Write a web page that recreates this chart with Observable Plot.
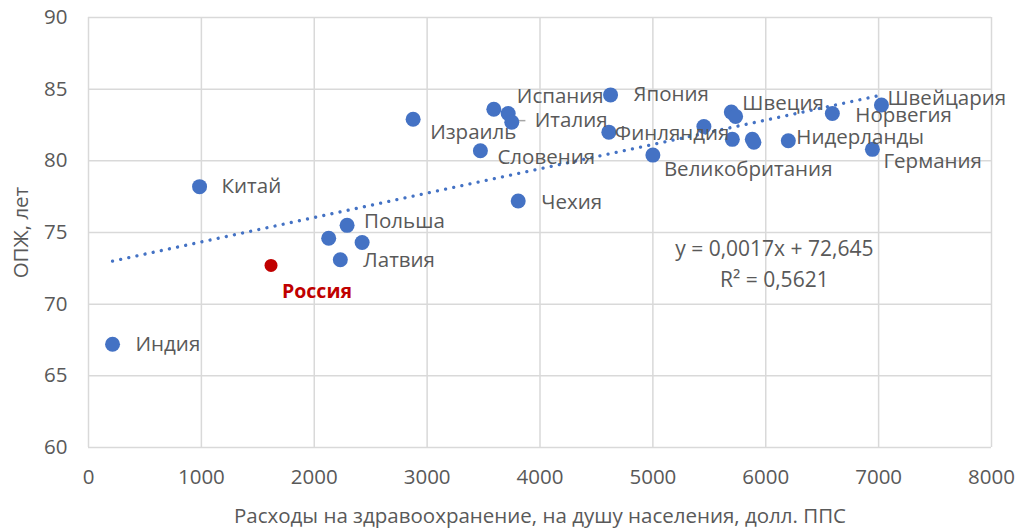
<!DOCTYPE html>
<html><head><meta charset="utf-8">
<script src="https://cdn.jsdelivr.net/npm/d3@7"></script>
<script src="https://cdn.jsdelivr.net/npm/@observablehq/plot@0.6"></script>
<style>body{margin:0;background:#fff}</style>
</head><body><div id="chart"></div>
<script>
// ---- data ----
const countries = ["Индия","Китай","Россия","","Польша","","Латвия","Израиль","Словения","Испания","","Италия","Чехия","Япония","Финляндия","Великобритания","","Швеция","","","","","Нидерланды","Норвегия","Германия","Швейцария"];
const spending  = [213,984,1617,2128,2291,2424,2231,2876,3472,3591,3718,3750,3807,4625,4610,5000,5452,5695,5733,5704,5881,5895,6200,6590,6945,7025];
const lifeExp   = [67.2,78.2,72.7,74.6,75.5,74.3,73.1,82.9,80.7,83.6,83.3,82.7,77.2,84.6,82.0,80.4,82.4,83.4,83.1,81.5,81.5,81.3,81.4,83.3,80.8,83.9];
const highlight = "Россия";
const trendSlope = 0.0017, trendIntercept = 72.645;
const eqLines = ["y = 0,0017x + 72,645", "R² = 0,5621"];
const eqAt = {x: 6076, y: 72.98};
const xTicks = [0,1000,2000,3000,4000,5000,6000,7000,8000];
const yTicks = [60,65,70,75,80,85,90];
const xTitle = "Расходы на здравоохранение, на душу населения, долл. ППС";
const yTitle = "ОПЖ, лет";
const yTitleStart = 71.8; // where the rotated y-title begins (bottom end)

// label placement (pixels) – style, not data
const labelOffset = {
  "Индия":[23,0],"Китай":[22,0],"Россия":[11,26],"Польша":[17,-4],"Латвия":[23,1],
  "Израиль":[17,13],"Словения":[17,7],"Испания":[23,-13],"Италия":[23,-2],"Чехия":[23,1],
  "Япония":[23,0],"Финляндия":[6,1],"Великобритания":[11,14],"Швеция":[11,-9],
  "Нидерланды":[8,-3],"Норвегия":[23,2],"Германия":[11,12],"Швейцария":[6,-6]
};

const pts = countries.map((c,i)=>({name:c, x:spending[i], y:lifeExp[i]}));
const [xmin,xmax] = d3.extent(spending);
const trend = [xmin,xmax].map(x=>({x, y: trendIntercept + trendSlope*x}));

const blue = "#4472C4", red = "#C00000", grey = "#595959", grid = "#d9d9d9";
const FS = 20.5;

const labelMarks = pts.filter(d=>d.name).map(d=>{
  const [dx,dy] = labelOffset[d.name] || [20,0];
  const isHi = d.name===highlight;
  return Plot.text([d],{x:"x",y:"y",text:"name",dx,dy,textAnchor:"start",lineAnchor:"middle",
    fill:isHi?red:grey,fontWeight:isHi?"bold":"normal",fontSize:isHi?19.5:FS});
});

const italy = pts.filter(d=>d.name==="Италия");

const chart = Plot.plot({
  width:1015,height:528,
  marginTop:17,marginRight:24,marginBottom:81,marginLeft:88,
  style:{fontFamily:"'Open Sans', sans-serif",fontSize:FS+"px",color:grey,background:"#fff",overflow:"visible"},
  x:{domain:[0,8000],label:null},
  y:{domain:[60,90],label:null},
  marks:[
    Plot.gridX(xTicks,{stroke:grid,strokeOpacity:1,strokeWidth:1.5}),
    Plot.gridY(yTicks,{stroke:grid,strokeOpacity:1,strokeWidth:1.5}),
    Plot.axisX(xTicks,{tickSize:0,tickPadding:22,tickFormat:d=>String(d),fontSize:FS,fill:grey,label:null}),
    Plot.axisY(yTicks,{tickSize:0,tickPadding:21,tickFormat:d=>String(d),fontSize:FS,fill:grey,label:null}),
    Plot.line(trend,{x:"x",y:"y",stroke:blue,strokeWidth:3.3,strokeDasharray:"0.01,8.3",strokeLinecap:"round"}),
    Plot.ruleY(italy,{y:"y",x1:"x",x2:d=>d.x+125,dy:-1.5,stroke:"#a6a6a6",strokeWidth:1.5}),
    Plot.dot(pts.filter(d=>d.name!==highlight),{x:"x",y:"y",r:7.5,fill:blue}),
    Plot.dot(pts.filter(d=>d.name===highlight),{x:"x",y:"y",r:6.5,fill:red}),
    ...labelMarks,
    Plot.text([eqLines.join("\n")],{x:()=>eqAt.x,y:()=>eqAt.y,text:d=>d,lineHeight:1.5,fontSize:21,fill:grey,textAnchor:"middle",lineAnchor:"middle"}),
    Plot.text([xTitle],{frameAnchor:"bottom",dy:69,fontSize:FS,fill:grey,lineAnchor:"middle"}),
    Plot.text([yTitle],{x:()=>0,y:()=>yTitleStart,dx:-67,rotate:-90,textAnchor:"start",fontSize:FS,fill:grey,lineAnchor:"middle"})
  ]
});
document.getElementById("chart").appendChild(chart);
</script></body></html>
